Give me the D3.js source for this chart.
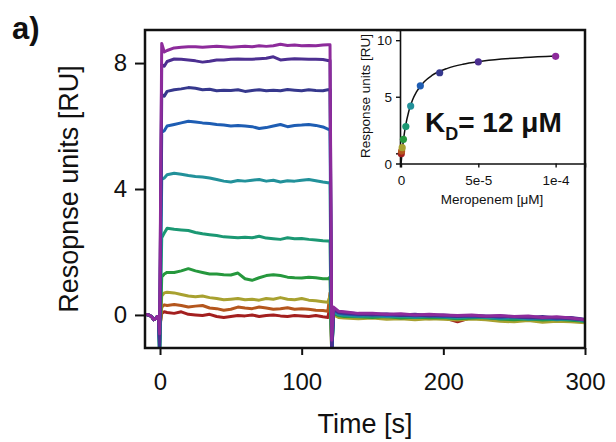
<!DOCTYPE html>
<html>
<head>
<meta charset="utf-8">
<script src="https://cdn.jsdelivr.net/npm/d3@7"></script>
<style>
  body { margin: 0; background: #fff; }
  svg text { font-family: "Liberation Sans", Arial, sans-serif; fill: #111; }
</style>
</head>
<body>
<div id="chart"></div>
<script>
// ---- data ----
// concentration series, lowest to highest (M)
const concentrations = [1.953e-7, 3.906e-7, 7.8125e-7, 1.5625e-6, 3.125e-6, 6.25e-6, 1.25e-5, 2.5e-5, 5e-5, 1e-4];
const seriesColors = ['#a31f1f', '#b4561d', '#a8a130', '#26983d', '#1b9873', '#22919a', '#1e5db3', '#36388d', '#4c2f91', '#8d2b9b'];

// pre-injection baseline (shared by all curves)
const preTimes = [-10.6, -8, -6, -4.5, -3, -2, -1];
const preValues = [0.02, 0.0, -0.05, -0.15, -0.12, -0.05, -0.05];

// injection artefact at t = -0.3 s
const injDip = [-0.4, -0.6, -0.8, -1.4, -1.4, -1.3, -1.2, -1.0, -0.9, -0.6];

// association phase
const assocTimes = [1.2, 3, 5, 10, 15, 20, 25, 30, 35, 40, 45, 50, 55, 60, 65, 70, 75, 80, 85, 90, 95, 100, 105, 110, 115, 118.5];
const assocValues = [
  [0.05, 0.1, 0.08, 0.05, 0.1, 0.02, 0.0, -0.02, 0.02, -0.05, -0.08, -0.05, -0.02, -0.03, 0.0, -0.05, -0.02, 0.0, -0.03, -0.05, -0.02, -0.03, -0.05, -0.02, -0.06, -0.08],
  [0.25, 0.32, 0.3, 0.33, 0.3, 0.25, 0.28, 0.3, 0.22, 0.2, 0.15, 0.18, 0.25, 0.22, 0.2, 0.25, 0.22, 0.18, 0.2, 0.23, 0.18, 0.2, 0.18, 0.15, 0.14, 0.12],
  [0.6, 0.7, 0.72, 0.7, 0.65, 0.6, 0.58, 0.6, 0.55, 0.52, 0.48, 0.5, 0.52, 0.48, 0.5, 0.47, 0.52, 0.5, 0.55, 0.5, 0.48, 0.52, 0.47, 0.45, 0.42, 0.4],
  [1.2, 1.3, 1.35, 1.35, 1.4, 1.47, 1.4, 1.35, 1.3, 1.3, 1.28, 1.27, 1.33, 1.15, 1.1, 1.18, 1.25, 1.28, 1.25, 1.2, 1.18, 1.17, 1.2, 1.18, 1.15, 1.15],
  [2.45, 2.6, 2.75, 2.72, 2.7, 2.68, 2.62, 2.58, 2.55, 2.52, 2.48, 2.47, 2.45, 2.47, 2.45, 2.5, 2.44, 2.42, 2.4, 2.45, 2.42, 2.43, 2.4, 2.38, 2.36, 2.35],
  [4.3, 4.35, 4.45, 4.5, 4.47, 4.43, 4.4, 4.38, 4.35, 4.3, 4.25, 4.22, 4.27, 4.25, 4.28, 4.3, 4.25, 4.28, 4.22, 4.26, 4.25, 4.28, 4.3, 4.26, 4.22, 4.2],
  [5.8, 5.85, 6.0, 6.05, 6.1, 6.15, 6.13, 6.1, 6.08, 6.05, 6.03, 6.0, 6.02, 6.0, 5.98, 5.92, 5.95, 6.0, 6.05, 5.98, 6.02, 6.03, 6.05, 6.02, 5.97, 5.9],
  [7.0, 6.95, 7.1, 7.15, 7.18, 7.22, 7.2, 7.15, 7.17, 7.12, 7.14, 7.13, 7.15, 7.1, 7.13, 7.15, 7.12, 7.14, 7.12, 7.16, 7.14, 7.12, 7.15, 7.13, 7.12, 7.15],
  [7.95, 7.9, 8.05, 8.13, 8.12, 8.1, 8.07, 8.03, 8.06, 8.1, 8.1, 8.12, 8.13, 8.12, 8.12, 8.14, 8.15, 8.2, 8.1, 8.12, 8.14, 8.13, 8.12, 8.12, 8.11, 8.08],
  [8.62, 8.35, 8.4, 8.48, 8.5, 8.52, 8.52, 8.5, 8.52, 8.53, 8.52, 8.5, 8.52, 8.53, 8.52, 8.55, 8.53, 8.55, 8.6, 8.56, 8.57, 8.55, 8.56, 8.55, 8.57, 8.58]
];

// wash-out artefact: value at t = 120 s and at t = 121.2 s
const washPeak = [0.3, 0.7, 0.6, 1.2, 2.35, 4.2, 5.9, 7.15, 8.08, 8.58];
const washDip = [-0.6, -1.2, -0.9, -1.3, -1.3, -1.4, -1.4, -1.2, -1.0, -0.8];

// dissociation phase
const dissTimes = [122.5, 126, 130, 140, 150, 160, 170, 180, 190, 200, 210, 220, 230, 240, 250, 260, 270, 280, 290, 300];
const dissValues = [
  [0.08, 0.0, -0.03, -0.05, -0.04, -0.07, -0.05, -0.08, -0.06, -0.08, -0.22, -0.08, -0.1, -0.12, -0.1, -0.13, -0.11, -0.14, -0.12, -0.18],
  [0.05, -0.03, -0.05, -0.08, -0.06, -0.1, -0.08, -0.1, -0.12, -0.1, -0.13, -0.1, -0.12, -0.15, -0.13, -0.16, -0.14, -0.17, -0.15, -0.2],
  [0.0, -0.08, -0.1, -0.12, -0.1, -0.14, -0.12, -0.15, -0.12, -0.14, -0.16, -0.13, -0.15, -0.2, -0.22, -0.18, -0.23, -0.2, -0.22, -0.25],
  [0.05, -0.02, -0.05, -0.06, -0.08, -0.05, -0.1, -0.07, -0.09, -0.08, -0.12, -0.1, -0.08, -0.13, -0.15, -0.12, -0.16, -0.14, -0.17, -0.2],
  [0.08, 0.0, -0.02, -0.05, -0.03, -0.06, -0.05, -0.08, -0.05, -0.07, -0.1, -0.06, -0.09, -0.12, -0.1, -0.14, -0.12, -0.15, -0.13, -0.2],
  [0.1, 0.02, 0.0, -0.03, -0.02, -0.05, -0.03, -0.06, -0.04, -0.05, -0.08, -0.05, -0.07, -0.1, -0.08, -0.12, -0.1, -0.13, -0.12, -0.18],
  [0.15, 0.06, 0.03, 0.0, 0.02, -0.02, 0.0, -0.03, -0.02, -0.05, -0.03, -0.06, -0.04, -0.07, -0.05, -0.1, -0.08, -0.12, -0.1, -0.15],
  [0.18, 0.08, 0.05, 0.02, 0.0, 0.02, -0.02, 0.0, -0.03, -0.02, -0.05, -0.02, -0.04, -0.06, -0.05, -0.08, -0.1, -0.08, -0.12, -0.16],
  [0.2, 0.1, 0.08, 0.04, 0.02, 0.03, 0.0, 0.02, -0.02, 0.0, -0.03, -0.02, -0.05, -0.03, -0.06, -0.08, -0.05, -0.1, -0.08, -0.14],
  [0.25, 0.12, 0.1, 0.05, 0.05, 0.02, 0.04, 0.0, 0.02, 0.0, -0.02, 0.0, -0.03, -0.02, -0.05, -0.03, -0.08, -0.06, -0.1, -0.15]
];

// inset: steady-state response per concentration, plus the fitted binding curve
const steadyState = [-0.03, 0.2, 0.5, 1.24, 2.36, 4.18, 5.97, 7.12, 8.09, 8.57];
const fitConc = [0, 1e-6, 2e-6, 3e-6, 5e-6, 7.5e-6, 1e-5, 1.5e-5, 2e-5, 3e-5, 4e-5, 5e-5, 6.5e-5, 8e-5, 1e-4];
const fitResp = [-1.0, 0.49, 1.6, 2.46, 3.7, 4.73, 5.43, 6.33, 6.88, 7.51, 7.87, 8.1, 8.33, 8.47, 8.6];

const xTicks = [0, 100, 200, 300];
const yTicks = [0, 4, 8];
const insetXTicks = [0, 5e-5, 1e-4];
const insetXLabels = ['0', '5e-5', '1e-4'];
const insetYTicks = [0, 5, 10];

// ---- layout ----
const width = 616, height = 442;
const plot = {left: 145, right: 585, top: 30, bottom: 348};
const inset = {left: 400, right: 585, top: 30, bottom: 163.5};

const svg = d3.select('#chart').append('svg')
    .attr('width', width)
    .attr('height', height);

const x = d3.scaleLinear().domain([-10.6, 300]).range([plot.left, plot.right]);
const y = d3.scaleLinear().domain([-1.05, 9.05]).range([plot.bottom, plot.top]);

svg.append('clipPath').attr('id', 'plot-clip')
    .append('rect')
    .attr('x', plot.left).attr('y', plot.top)
    .attr('width', plot.right - plot.left).attr('height', plot.bottom - plot.top);

// build each sensorgram from its phases
const sensorgrams = concentrations.map((c, i) => {
    let pts = preTimes.map((t, k) => [t, preValues[k]]);
    pts.push([-0.3, injDip[i]]);
    assocTimes.forEach((t, k) => pts.push([t, assocValues[i][k]]));
    pts.push([120, washPeak[i]]);
    pts.push([121.2, washDip[i]]);
    dissTimes.forEach((t, k) => pts.push([t, dissValues[i][k]]));
    return {color: seriesColors[i], pts: pts};
});

const line = d3.line()
    .x(d => x(d[0]))
    .y(d => y(d[1]));

svg.append('g')
    .attr('clip-path', 'url(#plot-clip)')
    .selectAll('path')
    .data(sensorgrams)
    .join('path')
    .attr('d', d => line(d.pts))
    .attr('fill', 'none')
    .attr('stroke', d => d.color)
    .attr('stroke-width', 3)
    .attr('stroke-linejoin', 'round');

// main axes
const xAxis = svg.append('g')
    .attr('transform', `translate(0,${plot.bottom})`)
    .call(d3.axisBottom(x).tickValues(xTicks).tickSize(7).tickPadding(18));
const yAxis = svg.append('g')
    .attr('transform', `translate(${plot.left},0)`)
    .call(d3.axisLeft(y).tickValues(yTicks).tickSize(10).tickPadding(8));

[xAxis, yAxis].forEach(g => {
    g.select('.domain').remove();
    g.selectAll('.tick line').attr('stroke', '#111').attr('stroke-width', 2);
    g.selectAll('.tick text').attr('font-size', 24).attr('fill', '#111');
});

svg.append('rect')
    .attr('x', plot.left).attr('y', plot.top)
    .attr('width', plot.right - plot.left).attr('height', plot.bottom - plot.top)
    .attr('fill', 'none')
    .attr('stroke', '#111')
    .attr('stroke-width', 2.5);

svg.append('text')
    .attr('x', 365).attr('y', 433)
    .attr('text-anchor', 'middle')
    .attr('font-size', 27)
    .text('Time [s]');

svg.append('text')
    .attr('transform', 'translate(78,189) rotate(-90)')
    .attr('text-anchor', 'middle')
    .attr('font-size', 27)
    .text('Resopnse units [RU]');

svg.append('text')
    .attr('x', 12).attr('y', 39)
    .attr('font-size', 31)
    .attr('font-weight', 'bold')
    .text('a)');

// ---- inset ----
const ix = d3.scaleLinear().domain([-6.5e-7, 1.19e-4]).range([inset.left, inset.right]);
const iy = d3.scaleLinear().domain([-0.9, 10.9]).range([inset.bottom, inset.top]);

const ixAxis = svg.append('g')
    .attr('transform', `translate(0,${inset.bottom})`)
    .call(d3.axisBottom(ix).tickValues(insetXTicks)
        .tickFormat((d, i) => insetXLabels[i]).tickSize(4).tickPadding(8));
const iyAxis = svg.append('g')
    .attr('transform', `translate(${inset.left},0)`)
    .call(d3.axisLeft(iy).tickValues(insetYTicks).tickSize(4).tickPadding(4));

[ixAxis, iyAxis].forEach(g => {
    g.select('.domain').attr('stroke', '#111').attr('stroke-width', 1.6);
    g.selectAll('.tick line').attr('stroke', '#111').attr('stroke-width', 1.4);
    g.selectAll('.tick text').attr('font-size', 13.5).attr('fill', '#222');
});
// the reference prints the inset "0" at the corner, below its tick
iyAxis.selectAll('.tick text').filter(d => d === 0).attr('dy', '1.15em');

const fitLine = d3.line()
    .x((d, i) => ix(fitConc[i]))
    .y(d => iy(d))
    .curve(d3.curveMonotoneX);

svg.append('path')
    .attr('d', fitLine(fitResp))
    .attr('fill', 'none')
    .attr('stroke', '#111')
    .attr('stroke-width', 1.5);

svg.append('g')
    .selectAll('circle')
    .data(concentrations)
    .join('circle')
    .attr('cx', d => ix(d))
    .attr('cy', (d, i) => iy(steadyState[i]))
    .attr('r', 3.6)
    .attr('fill', (d, i) => seriesColors[i]);

svg.append('text')
    .attr('transform', 'translate(370,96) rotate(-90)')
    .attr('text-anchor', 'middle')
    .attr('font-size', 13.5)
    .attr('fill', '#222')
    .text('Response units [RU]');

svg.append('text')
    .attr('x', 492).attr('y', 204)
    .attr('text-anchor', 'middle')
    .attr('font-size', 13.5)
    .attr('fill', '#222')
    .text('Meropenem [μM]');

const kd = svg.append('text')
    .attr('x', 425).attr('y', 132)
    .attr('font-size', 28)
    .attr('font-weight', 'bold');
kd.append('tspan').text('K');
kd.append('tspan').attr('font-size', 18).attr('dy', 8).text('D');
kd.append('tspan').attr('dy', -8).text('= 12 μM');
</script>
</body>
</html>
